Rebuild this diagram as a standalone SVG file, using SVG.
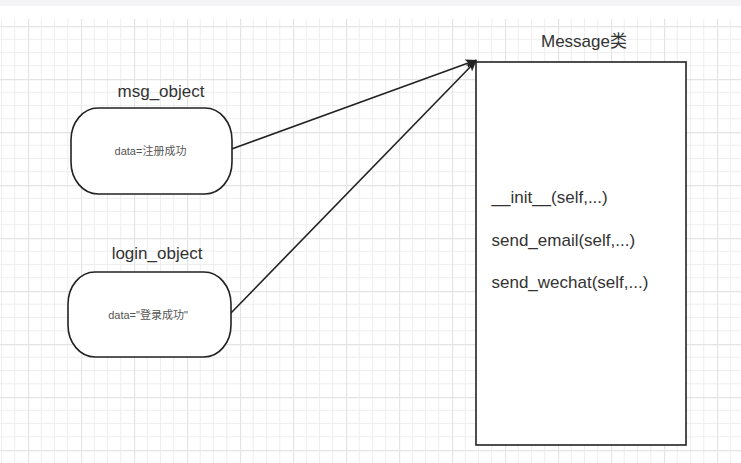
<svg xmlns="http://www.w3.org/2000/svg" width="741" height="463" viewBox="0 0 741 463">
<defs>
<pattern id="grid" patternUnits="userSpaceOnUse" x="28" y="26" width="53" height="53">
<path d="M13.25 0V53M26.5 0V53M39.75 0V53M0 13.25H53M0 26.5H53M0 39.75H53" stroke="#eeeeee" stroke-width="1" fill="none"/>
<path d="M0.5 0V53M0 0.5H53" stroke="#e4e4e4" stroke-width="1.3" fill="none"/>
</pattern>
<marker id="arr" markerUnits="userSpaceOnUse" markerWidth="12" markerHeight="10" refX="11" refY="4.5" orient="auto">
<path d="M0,0 L11,4.5 L0,9 L2.5,4.5 Z" fill="#222"/>
</marker>
<style>
.node{fill:#fff;stroke:#222;stroke-width:1.6}
.title{font-family:"Liberation Sans","Noto Sans CJK SC",sans-serif;font-size:17px;fill:#333;text-anchor:middle}
.inner{font-family:"Liberation Sans","Noto Sans CJK SC",sans-serif;font-size:11px;fill:#555;text-anchor:middle}
.method{font-family:"Liberation Sans","Noto Sans CJK SC",sans-serif;font-size:17px;fill:#333}
.edge{stroke:#222;stroke-width:1.6;fill:none;marker-end:url(#arr)}
</style>
</defs>
<rect x="0" y="0" width="741" height="463" fill="#fff"/>
<rect x="0" y="0" width="741" height="6" fill="#f4f4f6"/>
<rect x="0" y="19" width="741" height="444" fill="url(#grid)"/>
<g id="connectors">
<path class="edge" d="M231.7 149 L476.5 60"/>
<path class="edge" d="M230.5 313.5 L476.5 60.5"/>
</g>
<g id="msg_object">
<text class="title" x="161" y="97">msg_object</text>
<rect class="node" x="71" y="108" width="161" height="86" rx="27" ry="32"/>
<text class="inner" x="150.5" y="155">data=注册成功</text>
</g>
<g id="login_object">
<text class="title" x="157" y="259">login_object</text>
<rect class="node" x="68" y="272" width="163" height="85" rx="27" ry="32"/>
<text class="inner" x="148" y="319">data="登录成功"</text>
</g>
<g id="message_class">
<text class="title" x="584" y="47">Message类</text>
<rect class="node" x="476" y="62" width="210" height="383"/>
<text class="method" x="491.5" y="203">__init__(self,...)</text>
<text class="method" x="491.5" y="246">send_email(self,...)</text>
<text class="method" x="491.5" y="288">send_wechat(self,...)</text>
</g>
</svg>
